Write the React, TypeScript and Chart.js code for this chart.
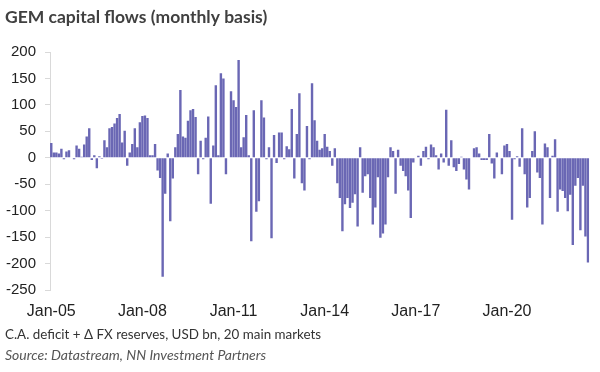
import React, { useEffect, useRef } from "react";
import { Chart, registerables } from "chart.js";

Chart.register(...registerables);

const TITLE = "GEM capital flows (monthly basis)";
const SUBTITLE = "C.A. deficit + \u0394 FX reserves, USD bn, 20 main markets";
const SOURCE = "Source: Datastream, NN Investment Partners";

const START_YEAR = 2005;
const TICK_LABELS = ["Jan-05", "Jan-08", "Jan-11", "Jan-14", "Jan-17", "Jan-20"];
const TICK_EVERY = 36;
const MONTH_NAMES = ["Jan", "Feb", "Mar", "Apr", "May", "Jun", "Jul", "Aug", "Sep", "Oct", "Nov", "Dec"];

// monthly flows, USD bn
const flows2005_2007 = [
  28, 10, 10, 8, 17, -3, 12, 14, 1, -3, 23, 17,
  2, 25, 40, 56, -4, 5, -20, 3, -2, 33, 20, 56,
  58, 65, 75, 83, 29, 51, -15, 10, 26, 56, 20, 67,
];
const flows2008_2010 = [
  79, 80, 75, 5, 5, 26, -24, -38, -225, -68, 8, -120,
  -39, 20, 45, 128, 40, 38, 70, 90, 92, 77, -31, 32,
  -3, 38, 78, -87, 23, 137, 5, 160, 150, -31, 0, 126,
];
const flows2011_2013 = [
  109, 96, 185, 20, 39, 81, 5, -158, 90, -102, -82, 109,
  76, -3, 20, -152, 43, -10, 48, 48, -3, 22, 16, 92,
  -39, 45, 122, -48, -62, 60, -3, 141, 71, 32, 15, 18,
];
const flows2014_2016 = [
  45, 21, 13, -15, 18, -48, -76, -139, -88, -76, -95, -85,
  -69, -130, 20, -66, -35, -31, -76, -126, -94, -37, -151, -143,
  -126, -37, 20, 13, -68, 15, -15, -25, -35, -62, -114, -9,
];
const flows2017_2019 = [
  0, 4, -15, 13, 21, -3, 25, 20, 5, -22, 8, -9,
  91, -15, 33, -18, -25, -12, 2, -22, -41, -60, 0, 18,
  20, 8, -4, -4, -4, 45, -11, -39, 10, 0, -31, 23,
];
const flows2020_2022 = [
  26, 13, -117, -3, 3, -17, 56, -31, -94, -76, 13, 50,
  -28, -38, -126, 27, 20, -76, 4, 35, -102, -60, -63, -76,
  -101, -70, -165, -53, -38, -137, -53, -149, -198,
];

const VALUES = [
  ...flows2005_2007,
  ...flows2008_2010,
  ...flows2011_2013,
  ...flows2014_2016,
  ...flows2017_2019,
  ...flows2020_2022,
];

const MONTHS = VALUES.map((_, i) => {
  const y = START_YEAR + Math.floor(i / 12);
  return MONTH_NAMES[i % 12] + "-" + String(y % 100).padStart(2, "0");
});

const BAR_COLOR = "#6a67b4";
const AXIS_COLOR = "#d9d9d9";
const TICK_FONT = "'Liberation Sans', Arial, sans-serif";
const TEXT_FONT = "Lato, 'Noto Sans', sans-serif";

const textPlugin = {
  id: "texts",
  afterDraw(chart: any) {
    const ctx = chart.ctx;
    ctx.save();
    ctx.textAlign = "left";
    ctx.textBaseline = "alphabetic";
    ctx.fillStyle = "#404040";
    ctx.font = "bold 17.5px " + TEXT_FONT;
    ctx.fillText(TITLE, 5, 23);
    ctx.fillStyle = "#333333";
    ctx.font = "13.4px " + TEXT_FONT;
    ctx.fillText(SUBTITLE, 5, 339);
    ctx.fillStyle = "#555555";
    ctx.font = "italic 14px " + TEXT_FONT;
    ctx.fillText(SOURCE, 5, 360);
    ctx.restore();
  },
};

export default function App() {
  const ref = useRef<HTMLCanvasElement | null>(null);
  useEffect(() => {
    if (!ref.current) return;
    const chart = new Chart(ref.current, {
      type: "bar",
      data: {
        labels: MONTHS,
        datasets: [
          {
            data: VALUES,
            backgroundColor: BAR_COLOR,
            borderWidth: 0,
            barPercentage: 0.95,
            categoryPercentage: 1,
          },
        ],
      },
      options: {
        responsive: false,
        animation: false,
        devicePixelRatio: 1,
        layout: { padding: { top: 52, right: 7, bottom: 50, left: 0 } },
        plugins: {
          legend: { display: false },
          tooltip: { enabled: false },
          title: { display: false },
        },
        scales: {
          x: {
            type: "category",
            offset: true,
            grid: { display: false, drawTicks: false },
            border: { display: false },
            ticks: {
              autoSkip: false,
              maxRotation: 0,
              minRotation: 0,
              padding: 12,
              color: "#222222",
              font: { family: TICK_FONT, size: 16 },
              callback: (_v: any, i: number) =>
                i % TICK_EVERY === 0 ? TICK_LABELS[i / TICK_EVERY] ?? "" : "",
            },
            afterFit: (s: any) => {
              s.height = 32;
            },
          },
          y: {
            min: -250,
            max: 200,
            grid: {
              display: true,
              drawOnChartArea: false,
              drawTicks: true,
              tickLength: 5,
              color: AXIS_COLOR,
            },
            border: { display: true, color: AXIS_COLOR },
            ticks: {
              stepSize: 50,
              padding: 9,
              color: "#222222",
              font: { family: TICK_FONT, size: 15 },
            },
            afterFit: (s: any) => {
              s.width = 50;
            },
          },
        },
      },
      plugins: [textPlugin],
    });
    return () => chart.destroy();
  }, []);
  return (
    <div style={{ position: "absolute", left: 0, top: 0, width: 600, height: 372, background: "#fff" }}>
      <canvas ref={ref} width={600} height={372} style={{ width: 600, height: 372, display: "block" }} />
    </div>
  );
}
